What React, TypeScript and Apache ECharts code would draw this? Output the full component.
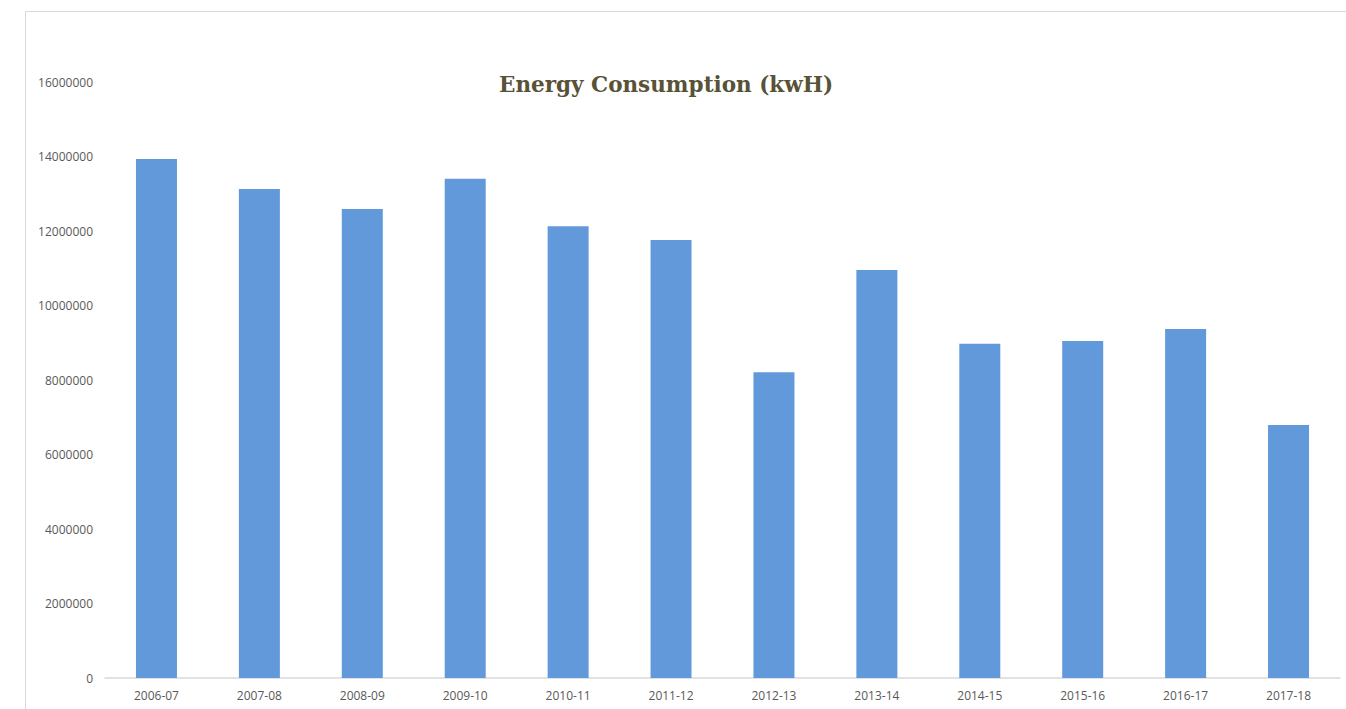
import React, { useEffect, useRef } from "react";
import * as echarts from "echarts";

const categories = ["2006-07", "2007-08", "2008-09", "2009-10", "2010-11", "2011-12", "2012-13", "2013-14", "2014-15", "2015-16", "2016-17", "2017-18"];
const consumption = [13930000, 13130000, 12590000, 13400000, 12130000, 11760000, 8210000, 10950000, 8970000, 9050000, 9370000, 6790000];
const yMax = 16000000;
const yStep = 2000000;

export default function App() {
  const ref = useRef<HTMLDivElement>(null);
  useEffect(() => {
    const chart = echarts.init(ref.current!, null, { renderer: "svg" });
    chart.setOption({
      animation: false,
      backgroundColor: "#ffffff",
      title: {
        text: "Energy Consumption (kwH)",
        left: 494,
        top: 68,
        textStyle: { fontFamily: "DejaVu Serif", fontSize: 21.5, fontWeight: "bold", color: "#585236" },
      },
      graphic: [
        { type: "line", shape: { x1: 25.5, y1: 11.5, x2: 1346, y2: 11.5 }, style: { stroke: "#d9d9d9", lineWidth: 1 } },
        { type: "line", shape: { x1: 25.5, y1: 11.5, x2: 25.5, y2: 709 }, style: { stroke: "#d9d9d9", lineWidth: 1 } },
      ],
      grid: { left: 105, right: 6, top: 82, bottom: 31, containLabel: false },
      xAxis: {
        type: "category",
        data: categories,
        axisTick: { show: false },
        axisLine: { lineStyle: { color: "#d9d9d9", width: 1.5 } },
        axisLabel: { color: "#595959", fontSize: 12, margin: 11, fontFamily: "Open Sans" },
      },
      yAxis: {
        type: "value",
        min: 0,
        max: yMax,
        interval: yStep,
        splitLine: { show: false },
        axisLine: { show: false },
        axisTick: { show: false },
        axisLabel: { color: "#595959", fontSize: 12, margin: 12, fontFamily: "Open Sans", formatter: (v: number) => String(v) },
      },
      series: [
        {
          type: "bar",
          data: consumption,
          barWidth: 41,
          itemStyle: { color: "#6199da" },
        },
      ],
    });
    return () => chart.dispose();
  }, []);
  return <div ref={ref} style={{ position: "absolute", left: 0, top: 0, width: 1346, height: 709 }} />;
}
